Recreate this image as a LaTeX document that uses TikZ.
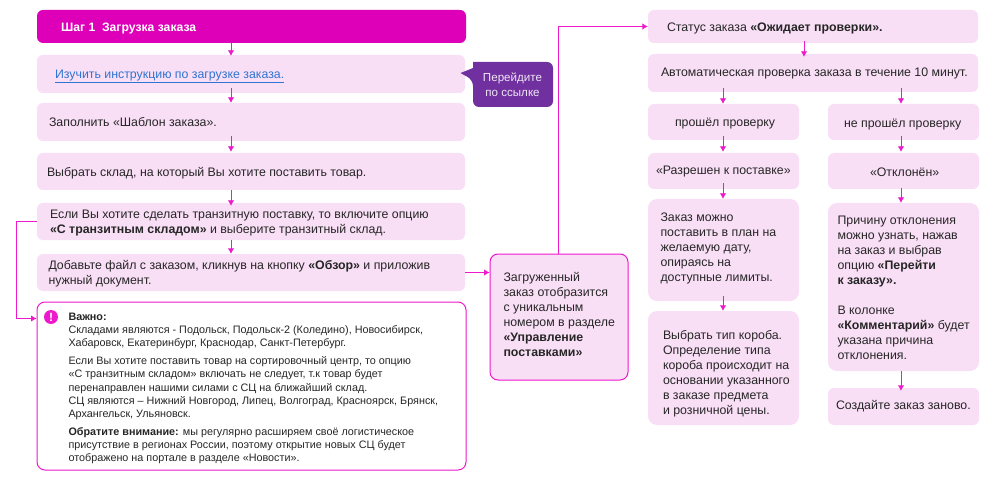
\documentclass[tikz,border=0pt]{standalone}
\usepackage{fontspec}
\setmainfont{Liberation Sans}
\usetikzlibrary{arrows.meta}
\definecolor{hdr}{HTML}{DE00B8}
\definecolor{pale}{HTML}{F9DFF6}
\definecolor{arr}{HTML}{EE18CC}
\definecolor{purp}{HTML}{7030A0}
\definecolor{linkc}{HTML}{2F74D0}
\definecolor{ink}{HTML}{262626}
\tikzset{
  x=1pt,y=-1pt,
  box/.style={fill=pale,rounded corners=6pt,inner xsep=0pt,inner ysep=0pt,text=ink,font=\fontsize{12.35}{15}\selectfont},
  bigbox/.style={box,rounded corners=9pt},
  outlined/.style={box,draw=arr,line width=1pt,rounded corners=8pt},
  conn/.style={draw=arr,line width=0.9pt,-{Latex[length=5.5pt,width=6.5pt]}},
}
% name, x0, y0, x1, y1, left pad, style, downward text offset, text
\newcommand{\bx}[9]{%
  \pgfmathsetlengthmacro{\bw}{#4-#2}%
  \pgfmathsetlengthmacro{\bh}{#5-#3}%
  \node[#7,minimum width=\bw,minimum height=\bh] (#1) at ({(#2+#4)/2},{(#3+#5)/2})
    {\makebox[\bw][l]{\hspace*{#6pt}\raisebox{-#8pt}[0pt][0pt]{\begin{tabular}[c]{@{}l@{}}#9\end{tabular}}}};}
\begin{document}
\begin{tikzpicture}
\useasboundingbox[fill=white] (0,0) rectangle (1000,478);
\bx{hd}{37}{10}{466}{43}{24}{box,fill=hdr,text=white,font=\fontsize{12.2}{14}\selectfont\bfseries}{5}{Шаг 1\ \ Загрузка заказа}
\bx{b1}{37}{55}{465}{93}{18}{box}{4.7}{{\color{linkc}\underline{Изучить инструкцию по загрузке заказа.}}}
\bx{b2}{37}{103}{465}{141}{12}{box}{5}{Заполнить «Шаблон заказа».}
\bx{b3}{37}{153}{465}{190}{10}{box}{5}{Выбрать склад, на который Вы хотите поставить товар.}
\bx{b4}{37}{203}{465}{240}{13}{box}{4.5}{Если Вы хотите сделать транзитную поставку, то включите опцию\\\textbf{«С транзитным складом»} и выберите транзитный склад.}
\bx{b5}{37}{254}{465}{291}{11.5}{box}{4}{Добавьте файл с заказом, кликнув на кнопку \textbf{«Обзор»} и приложив\\нужный документ.}
\bx{imp}{37}{302}{466}{470}{31.5}{outlined,fill=white,font=\fontsize{10.8}{13.1}\selectfont}{5.2}{\textbf{Важно:}\\Складами являются - Подольск, Подольск-2 (Коледино), Новосибирск,\\Хабаровск, Екатеринбург, Краснодар, Санкт-Петербург.\\[5pt]Если Вы хотите поставить товар на сортировочный центр, то опцию\\«С транзитным складом» включать не следует, т.к товар будет\\перенаправлен нашими силами с СЦ на ближайший склад.\\СЦ являются – Нижний Новгород, Липец, Волгоград, Красноярск, Брянск,\\Архангельск, Ульяновск.\\[5pt]\textbf{Обратите внимание:} мы регулярно расширяем своё логистическое\\присутствие в регионах России, поэтому открытие новых СЦ будет\\отображено на портале в разделе «Новости».}
\node[circle,fill=arr,minimum size=14pt,inner sep=0pt,text=white,font=\fontsize{12}{12}\selectfont\bfseries] (ic) at (51,317) {!};
% callout
\fill[purp,rounded corners=6pt] (473,62) -- (553,62) -- (553,107) -- (473,107) -- (473,80) [sharp corners] -- (460.5,73) -- (473,68) -- cycle;
\node[inner sep=0pt,align=center,text=white!88!purp,font=\fontsize{11.6}{14.6}\selectfont] (cl) at (512.5,85) {Перейдите\\по ссылке};
\bx{ld}{490}{254}{628}{380}{13.5}{outlined}{1.5}{Загруженный\\заказ отобразится\\с уникальным\\номером в разделе\\\textbf{«Управление}\\\textbf{поставками»}}
\bx{r1}{648}{10}{978}{43}{19}{box}{5}{Статус заказа \textbf{«Ожидает проверки».}}
\bx{r2}{648}{54}{978}{92}{13}{box}{3.5}{Автоматическая проверка заказа в течение 10 минут.}
\bx{l3}{648}{104}{799}{140}{27}{box}{5}{прошёл проверку}
\bx{p3}{828}{104}{979}{140}{16}{box}{6}{не прошёл проверку}
\bx{l4}{648}{153}{799}{189}{8}{box}{4}{«Разрешен к поставке»}
\bx{p4}{828}{153}{979}{189}{42}{box}{5.5}{«Отклонён»}
\bx{l5}{648}{199}{799}{301}{12.5}{bigbox}{1.2}{Заказ можно\\поставить в план на\\желаемую дату,\\опираясь на\\доступные лимиты.}
\bx{p5}{828}{203}{979}{371}{9.5}{bigbox}{4.6}{Причину отклонения\\можно узнать, нажав\\на заказ и выбрав\\опцию \textbf{«Перейти}\\\textbf{к заказу».}\\[15pt]В колонке\\\textbf{«Комментарий»} будет\\указана причина\\отклонения.}
\bx{l6}{648}{311}{799}{425}{15}{bigbox}{9}{Выбрать тип короба.\\Определение типа\\короба происходит на\\основании указанного\\в заказе предмета\\и розничной цены.}
\bx{p6}{828}{388}{979}{425}{8}{box}{3}{Создайте заказ заново.}
% connectors
\path[conn] ([xshift=-20.5pt]hd.south) -- ([xshift=-20pt,yshift=-1pt]b1.north);
\path[conn] ([xshift=-20pt,yshift=5pt]b1.south) -- ([xshift=-20pt]b2.north);
\path[conn] ([xshift=-20pt,yshift=5pt]b2.south) -- ([xshift=-20pt,yshift=1pt]b3.north);
\path[conn] ([xshift=-20pt]b3.south) -- ([xshift=-20pt,yshift=-3pt]b4.north);
\path[conn] ([xshift=-20pt]b4.south) -- ([xshift=-20pt]b5.north);
\coordinate (c1) at (16,221.5);
\coordinate (c2) at (16,318.5);
\path[conn] (b4.west) -- (c1) -- (c2) -- (imp.west |- c2);
\path[conn] (b5.east) -- (ld.west |- b5.east);
\coordinate (c3) at (558,26.5);
\path[conn] ([xshift=-1pt]ld.north) -- (c3) -- (r1.west);
\path[conn] ([xshift=-9pt,yshift=2pt]r1.south) -- ([xshift=-9pt,yshift=-3pt]r2.north);
\path[conn] ([xshift=-90pt,yshift=4pt]r2.south) -- ([xshift=-0.5pt]l3.north);
\path[conn] ([xshift=88pt,yshift=4pt]r2.south) -- ([xshift=-2.5pt]p3.north);
\path[conn] ([xshift=-0.5pt,yshift=4pt]l3.south) -- ([xshift=-0.5pt,yshift=1pt]l4.north);
\path[conn] ([xshift=-2.5pt,yshift=4pt]p3.south) -- ([xshift=-2.5pt,yshift=1pt]p4.north);
\path[conn] ([xshift=-0.5pt,yshift=6pt]l4.south) -- ([xshift=-0.5pt]l5.north);
\path[conn] ([xshift=-2.5pt,yshift=1pt]p4.south) -- ([xshift=-2.5pt]p5.north);
\path[conn] ([xshift=-0.5pt,yshift=5pt]l5.south) -- ([xshift=-0.5pt]l6.north);
\path[conn] ([xshift=-2.5pt]p5.south) -- ([xshift=-2.5pt,yshift=-3pt]p6.north);
\end{tikzpicture}
\end{document}
